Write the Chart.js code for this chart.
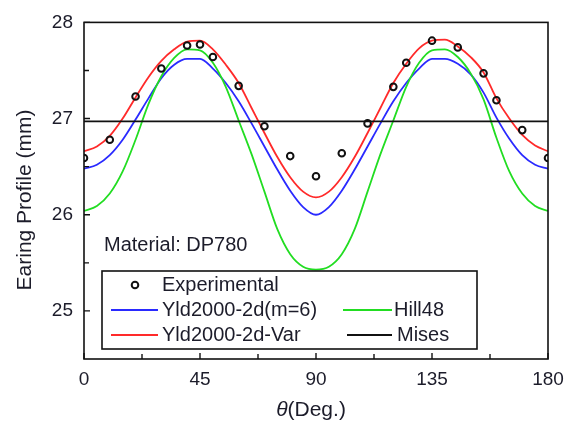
<!DOCTYPE html>
<html><head><meta charset="utf-8">
<script src="https://cdn.jsdelivr.net/npm/chart.js@4.4.1/dist/chart.umd.min.js"></script>
<style>html,body{margin:0;padding:0;background:#fff}</style>
</head><body>
<canvas id="c" width="574" height="425" style="width:574px;height:425px;display:block"></canvas>
<script>
// ---- data ----
const curveAngles = [0,5,10,15,20,25,30,35,40,45,50,55,60,65,70,75,80,85,90,95,100,105,110,115,120,125,130,135,140,145,150,155,160,165,170,175,180];
const yldVar = [26.66,26.71,26.82,27.00,27.22,27.43,27.60,27.72,27.80,27.81,27.72,27.56,27.37,27.11,26.85,26.60,26.39,26.24,26.18,
                26.24,26.39,26.60,26.85,27.11,27.37,27.57,27.73,27.81,27.82,27.75,27.64,27.48,27.21,27.00,26.83,26.72,26.66];
const yldM6 = [26.48,26.52,26.62,26.78,26.99,27.21,27.42,27.56,27.62,27.62,27.52,27.37,27.18,26.95,26.71,26.47,26.25,26.08,26.00,
               26.08,26.25,26.47,26.71,26.95,27.18,27.37,27.52,27.62,27.62,27.57,27.46,27.27,27.01,26.79,26.62,26.52,26.48];
const hill48 = [26.04,26.09,26.22,26.45,26.78,27.15,27.44,27.63,27.72,27.71,27.58,27.33,26.98,26.63,26.24,25.85,25.59,25.46,25.43,
                25.46,25.59,25.85,26.24,26.63,26.98,27.33,27.58,27.71,27.72,27.64,27.47,27.20,26.80,26.45,26.22,26.09,26.04];
const misesAngles = [0,180];
const misesValues = [26.97,26.97];
const expAngles = [0,10,20,30,40,45,50,60,70,80,90,100,110,120,125,135,145,155,160,170,180];
const expValues = [26.59,26.78,27.23,27.52,27.76,27.77,27.64,27.34,26.92,26.61,26.40,26.64,26.95,27.33,27.58,27.81,27.74,27.47,27.19,26.88,26.59];
const xTicks = [0,45,90,135,180];
const yTicks = [25,26,27,28];
const seriesNames = ['Experimental','Yld2000-2d(m=6)','Hill48','Yld2000-2d-Var','Mises'];
const annotationText = 'Material: DP780';
const yTitle = 'Earing Profile (mm)';
const xTitleSymbol = 'θ';
const xTitleRest = '(Deg.)';

const FONT = '"Liberation Sans", Arial, Helvetica, sans-serif';
const TEXT = '#1c1c2a';
const pts = (xs, ys) => xs.map((x, i) => ({x: x, y: ys[i]}));

const decorPlugin = {
  id: 'decor',
  afterDraw(chart) {
    const ctx = chart.ctx, a = chart.chartArea;
    const xs = chart.scales.x, ys = chart.scales.y;
    ctx.save();
    // frame
    ctx.strokeStyle = '#111'; ctx.lineWidth = 1.6;
    ctx.strokeRect(a.left, a.top, a.right - a.left, a.bottom - a.top);
    // inward ticks
    ctx.lineWidth = 1.4;
    ctx.beginPath();
    for (let v = 0; v <= 180; v += 22.5) {
      const px = xs.getPixelForValue(v);
      const len = (v % 45 === 0) ? 6 : 5;
      ctx.moveTo(px, a.bottom); ctx.lineTo(px, a.bottom - len);
    }
    for (let v = 25; v <= 28; v += 0.5) {
      const py = ys.getPixelForValue(v);
      const len = Number.isInteger(v) ? 6 : 5;
      ctx.moveTo(a.left, py); ctx.lineTo(a.left + len, py);
    }
    ctx.stroke();
    ctx.fillStyle = TEXT;
    // axis titles
    ctx.save();
    ctx.translate(25, 200); ctx.rotate(-Math.PI / 2);
    ctx.font = '21px ' + FONT; ctx.textAlign = 'center'; ctx.textBaseline = 'middle';
    ctx.fillText(yTitle, 0, 0);
    ctx.restore();
    ctx.textBaseline = 'alphabetic'; ctx.textAlign = 'left';
    ctx.font = 'italic 21px ' + FONT;
    const w1 = ctx.measureText(xTitleSymbol).width;
    ctx.font = '21px ' + FONT;
    const w2 = ctx.measureText(xTitleRest).width;
    const x0 = 311 - (w1 + w2) / 2;
    ctx.font = 'italic 21px ' + FONT;
    ctx.fillText(xTitleSymbol, x0, 416);
    ctx.font = '21px ' + FONT;
    ctx.fillText(xTitleRest, x0 + w1, 416);
    // annotation
    ctx.font = '20px ' + FONT;
    ctx.fillText(annotationText, 104, 251);
    // legend box
    ctx.strokeStyle = '#111'; ctx.lineWidth = 1.6;
    ctx.strokeRect(102, 271, 375, 78);
    const ds = chart.data.datasets;
    const byLabel = l => ds.find(d => d.label === l);
    ctx.beginPath(); ctx.arc(135, 285, 3.3, 0, Math.PI * 2);
    ctx.lineWidth = 2; ctx.strokeStyle = '#111'; ctx.stroke();
    ctx.fillText(seriesNames[0], 162, 291);
    const items = [
      [seriesNames[1], 111, 158, 310, 162, 316],
      [seriesNames[2], 343, 392, 310, 394, 316],
      [seriesNames[3], 111, 158, 335, 162, 341],
      [seriesNames[4], 347, 392, 335, 397, 341]
    ];
    items.forEach(it => {
      const d = byLabel(it[0]);
      ctx.beginPath(); ctx.moveTo(it[1], it[3]); ctx.lineTo(it[2], it[3]);
      ctx.strokeStyle = d.borderColor; ctx.lineWidth = 2; ctx.stroke();
      ctx.fillStyle = TEXT;
      ctx.fillText(it[0], it[4], it[5]);
    });
    ctx.restore();
  }
};

const lineDs = (label, ys, color, order) => ({
  label: label, data: pts(curveAngles, ys), borderColor: color, backgroundColor: color,
  borderWidth: 1.8, pointRadius: 0, cubicInterpolationMode: 'monotone', fill: false, order: order
});

new Chart(document.getElementById('c'), {
  type: 'line',
  data: {
    datasets: [
      {label: seriesNames[0], data: pts(expAngles, expValues), showLine: false, pointRadius: 3.3,
       pointBorderWidth: 2, pointBorderColor: '#111', pointBackgroundColor: 'rgba(255,255,255,0)', order: 0},
      {label: seriesNames[4], data: pts(misesAngles, misesValues), borderColor: '#111', backgroundColor: '#111',
       borderWidth: 1.8, pointRadius: 0, fill: false, order: 1},
      lineDs(seriesNames[3], yldVar, '#ff2a2a', 2),
      lineDs(seriesNames[2], hill48, '#22dd22', 3),
      lineDs(seriesNames[1], yldM6, '#2a2aff', 4)
    ]
  },
  options: {
    responsive: false, animation: false, devicePixelRatio: 1,
    layout: {padding: {left: 0, top: 19, right: 26, bottom: 0}},
    plugins: {legend: {display: false}, tooltip: {enabled: false}},
    scales: {
      x: {
        type: 'linear', min: 0, max: 180,
        afterFit(s) { s.height = 66; },
        afterBuildTicks(s) { s.ticks = xTicks.map(v => ({value: v})); },
        grid: {display: false, drawTicks: false}, border: {display: false},
        ticks: {padding: 9, color: TEXT, font: {family: FONT, size: 19}, maxRotation: 0},
        title: {display: false}
      },
      y: {
        type: 'linear', min: 24.5, max: 28,
        afterFit(s) { s.width = 84; },
        afterBuildTicks(s) { s.ticks = yTicks.map(v => ({value: v})); },
        grid: {display: false, drawTicks: false}, border: {display: false},
        ticks: {padding: 11, color: TEXT, font: {family: FONT, size: 19}},
        title: {display: false}
      }
    }
  },
  plugins: [decorPlugin]
});
</script>
</body></html>
